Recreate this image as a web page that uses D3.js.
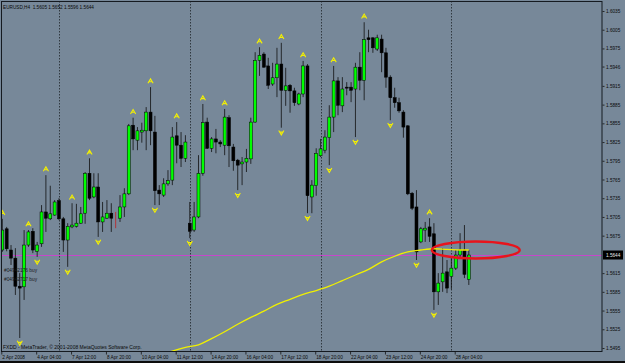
<!DOCTYPE html>
<html>
<head>
<meta charset="utf-8">
<script src="https://d3js.org/d3.v7.min.js"></script>
<style>
body { margin: 0; background: #000; }
svg { display: block; font-family: 'Liberation Sans', Arial, sans-serif; }
.axis text { fill: #0a0a0a; font-size: 4.7px; }
.axis line { stroke: #111; stroke-width: 0.8; }
</style>
</head>
<body>
<svg id="chart"></svg>
<script>
// EURUSD H4, bar 0 = 2 Apr 2008 20:00
var open = [1.5652,1.5686,1.5652,1.5639,1.5594,1.5593,1.5660,1.5682,1.5650,1.5662,1.5713,1.5702,1.5708,1.5731,1.5702,1.5668,1.5689,1.5690,1.5695,1.5711,
  1.5775,1.5737,1.5753,1.5697,1.5703,1.5711,1.5703,1.5703,1.5721,1.5742,1.5852,1.5828,1.5841,1.5843,1.5873,1.5841,1.5748,1.5740,1.5758,1.5764,
  1.5835,1.5820,1.5799,1.5695,1.5684,1.5705,1.5775,1.5857,1.5815,1.5830,1.5825,1.5820,1.5864,1.5817,1.5796,1.5790,1.5793,1.5798,1.5857,1.5956,
  1.5966,1.5947,1.5918,1.5928,1.5950,1.5908,1.5916,1.5907,1.5886,1.5902,1.5947,1.5737,1.5755,1.5803,1.5812,1.5832,1.5865,1.5923,1.5883,1.5913,
  1.5913,1.5910,1.5945,1.5924,1.5992,1.5992,1.5974,1.5990,1.5968,1.5929,1.5896,1.5888,1.5873,1.5851,1.5743,1.5721,1.5665,1.5684,1.5689,1.5678,
  1.5585,1.5601,1.5617,1.5610,1.5623,1.5644,1.5652,1.5605];
var high = [1.5702,1.5689,1.5660,1.5655,1.5615,1.5684,1.5684,1.5687,1.5665,1.5724,1.5772,1.5755,1.5732,1.5735,1.5705,1.5695,1.5727,1.5726,1.5721,1.5777,
  1.5799,1.5775,1.5775,1.5729,1.5732,1.5727,1.5713,1.5740,1.5751,1.5854,1.5864,1.5849,1.5856,1.5881,1.5913,1.5867,1.5756,1.5767,1.5780,1.5849,
  1.5857,1.5841,1.5836,1.5729,1.5729,1.5804,1.5886,1.5864,1.5833,1.5846,1.5828,1.5878,1.5868,1.5822,1.5798,1.5801,1.5814,1.5864,1.5969,1.5977,
  1.5969,1.5960,1.5952,1.5976,1.5984,1.5944,1.5918,1.5912,1.5904,1.5955,1.5950,1.5764,1.5815,1.5830,1.5844,1.5884,1.5947,1.5929,1.5929,1.5921,
  1.5921,1.5952,1.5969,1.6017,1.6005,1.5993,1.5997,1.5997,1.5976,1.5932,1.5912,1.5896,1.5876,1.5852,1.5745,1.5748,1.5689,1.5697,1.5703,1.5695,
  1.5615,1.5655,1.5636,1.5641,1.5652,1.5679,1.5692,1.5652];
var low = [1.5649,1.5650,1.5628,1.5580,1.5511,1.5572,1.5657,1.5647,1.5641,1.5657,1.5681,1.5700,1.5707,1.5700,1.5649,1.5625,1.5687,1.5688,1.5694,1.5694,
  1.5732,1.5735,1.5673,1.5681,1.5702,1.5681,1.5687,1.5697,1.5705,1.5740,1.5812,1.5812,1.5824,1.5812,1.5820,1.5724,1.5724,1.5737,1.5755,1.5756,
  1.5791,1.5785,1.5793,1.5671,1.5681,1.5703,1.5771,1.5814,1.5809,1.5807,1.5817,1.5804,1.5785,1.5779,1.5748,1.5756,1.5777,1.5790,1.5856,1.5931,
  1.5944,1.5910,1.5915,1.5897,1.5848,1.5883,1.5872,1.5883,1.5884,1.5897,1.5711,1.5711,1.5739,1.5801,1.5807,1.5788,1.5841,1.5868,1.5873,1.5900,
  1.5889,1.5833,1.5908,1.5892,1.5969,1.5968,1.5971,1.5937,1.5912,1.5860,1.5880,1.5872,1.5832,1.5740,1.5716,1.5636,1.5663,1.5665,1.5665,1.5556,
  1.5564,1.5585,1.5583,1.5589,1.5620,1.5639,1.5607,1.5596];
var close = [1.5684,1.5654,1.5639,1.5594,1.5591,1.5660,1.5681,1.5652,1.5660,1.5713,1.5703,1.5710,1.5729,1.5702,1.5668,1.5690,1.5692,1.5695,1.5710,1.5775,
  1.5735,1.5753,1.5697,1.5705,1.5711,1.5703,1.5703,1.5721,1.5742,1.5851,1.5830,1.5843,1.5844,1.5873,1.5843,1.5747,1.5742,1.5758,1.5763,1.5833,
  1.5820,1.5799,1.5825,1.5682,1.5705,1.5775,1.5856,1.5815,1.5830,1.5825,1.5822,1.5865,1.5819,1.5795,1.5788,1.5793,1.5799,1.5857,1.5956,1.5964,
  1.5945,1.5916,1.5928,1.5950,1.5908,1.5915,1.5907,1.5888,1.5902,1.5947,1.5739,1.5756,1.5807,1.5814,1.5833,1.5865,1.5923,1.5884,1.5910,1.5912,
  1.5908,1.5945,1.5924,1.5989,1.5989,1.5976,1.5992,1.5968,1.5929,1.5896,1.5888,1.5875,1.5849,1.5742,1.5719,1.5649,1.5686,1.5687,1.5674,1.5585,
  1.5599,1.5615,1.5591,1.5623,1.5644,1.5652,1.5613,1.5644];

// fractals (bar index)
var upFractals = [0,6,10,16,20,30,34,40,46,51,59,64,69,76,83,98];
var downFractals = [4,8,15,22,35,43,54,64,70,75,81,89,95,99];

// moving average
var maBars = [36,39,42,45,48,51,54,57,60,63,66,69,72,75,78,81,84,87,90,93,96,99,102,105,107];
var maValues = [1.5482,1.5490,1.5496,1.5500,1.5510,1.5521,1.5533,1.5544,1.5554,1.5565,1.5573,1.5581,1.5587,1.5594,1.5603,1.5612,1.5621,1.5633,1.5642,1.5649,1.5652,1.5654,1.5653,1.5652,1.5652];

var weekStarts = [13,43,73,103];
var timeLabelBars = [0,8,16,24,32,40,48,56,64,72,80,88,96,104];
var timeLabels = ["2 Apr 2008","4 Apr 04:00","7 Apr 12:00","8 Apr 20:00","10 Apr 04:00","11 Apr 12:00","14 Apr 20:00",
  "16 Apr 04:00","17 Apr 12:00","18 Apr 20:00","22 Apr 04:00","23 Apr 12:00","24 Apr 20:00","28 Apr 04:00"];
var priceTicks = [1.6035,1.6005,1.5975,1.5946,1.5915,1.5885,1.5855,1.5825,1.5795,1.5765,1.5735,1.5705,1.5675,1.5615,1.5585,1.5555,1.5525,1.5495];

var title = "EURUSD,H4  1.5605 1.5652 1.5596 1.5644";
var orders = ["#04942176 buy", "#04942717 buy"];
var footer = "FXDD - MetaTrader, \u00a9 2001-2008 MetaQuotes Software Corp.";
var highlight = {bar: 108.6, price: 1.5652};

var W = 625, H = 363;
var plot = {left: 1, top: 1, right: 602, bottom: 351};

var svg = d3.select("#chart").attr("width", W).attr("height", H);

var x = d3.scaleLinear().domain([0, 107]).range([2.3, 468.8]);
var y = d3.scaleLinear().domain([1.5495, 1.6035]).range([348, 11]);

svg.append("rect").attr("width", W).attr("height", H).attr("fill", "#778899");
svg.append("rect").attr("x", 0).attr("y", 361).attr("width", W).attr("height", 2).attr("fill", "#0c0c0c");

svg.append("clipPath").attr("id", "clip")
  .append("rect").attr("x", plot.left).attr("y", plot.top)
  .attr("width", plot.right - plot.left).attr("height", plot.bottom - plot.top);

var g = svg.append("g").attr("clip-path", "url(#clip)");

// week separators
g.selectAll("line.sep").data(weekStarts).enter().append("line")
  .attr("class", "sep")
  .attr("x1", function(d){ return Math.round(x(d)) + 0.5; })
  .attr("x2", function(d){ return Math.round(x(d)) + 0.5; })
  .attr("y1", plot.top).attr("y2", plot.bottom)
  .attr("stroke", "#1e242a").attr("stroke-width", 0.8)
  .attr("stroke-dasharray", "1.5,1.5");

// bid line
var last = close[close.length - 1];
g.append("line")
  .attr("x1", plot.left).attr("x2", plot.right)
  .attr("y1", Math.round(y(last)) + 0.5).attr("y2", Math.round(y(last)) + 0.5)
  .attr("stroke", "#d040d0").attr("stroke-width", 0.9);

// candles
var bars = d3.range(open.length);
var candle = g.selectAll("g.candle").data(bars).enter().append("g").attr("class", "candle");

candle.append("line")
  .attr("x1", function(i){ return x(i); })
  .attr("x2", function(i){ return x(i); })
  .attr("y1", function(i){ return y(high[i]); })
  .attr("y2", function(i){ return y(low[i]); })
  .attr("stroke", function(i){ return open[i] == close[i] ? "#c02020" : "#101010"; })
  .attr("stroke-width", 0.8);

candle.filter(function(i){ return open[i] != close[i]; })
  .append("rect")
  .attr("x", function(i){ return x(i) - 1.5; })
  .attr("width", 3)
  .attr("y", function(i){ return y(Math.max(open[i], close[i])); })
  .attr("height", function(i){ return Math.max(1, Math.abs(y(open[i]) - y(close[i]))); })
  .attr("fill", function(i){ return close[i] > open[i] ? "#00ff00" : "#000"; })
  .attr("stroke", "#000").attr("stroke-width", 0.5);

// moving average
var maLine = d3.line()
  .x(function(d, k){ return x(maBars[k]); })
  .y(function(d){ return y(d); })
  .curve(d3.curveMonotoneX);

g.append("path").datum(maValues)
  .attr("d", maLine)
  .attr("fill", "none")
  .attr("stroke", "#f0f000")
  .attr("stroke-width", 1.3);

// fractal arrows
g.selectAll("path.up").data(upFractals).enter().append("path")
  .attr("class", "up")
  .attr("transform", function(i){ return "translate(" + x(i) + "," + (y(high[i]) - 6) + ")"; })
  .attr("d", "M-2.6,2.2 L0,-2.2 L2.6,2.2 M-1.4,0.6 L1.4,0.6")
  .attr("fill", "none").attr("stroke", "#f4f000").attr("stroke-width", 1.1);

g.selectAll("path.down").data(downFractals).enter().append("path")
  .attr("class", "down")
  .attr("transform", function(i){ return "translate(" + x(i) + "," + (y(low[i]) + 5) + ")"; })
  .attr("d", "M-2.6,-2.2 L0,2.2 L2.6,-2.2 M-1.4,-0.6 L1.4,-0.6")
  .attr("fill", "none").attr("stroke", "#f4f000").attr("stroke-width", 1.1);

// highlight ellipse
svg.append("ellipse")
  .attr("cx", x(highlight.bar)).attr("cy", y(highlight.price))
  .attr("rx", 44).attr("ry", 8.5)
  .attr("fill", "none").attr("stroke", "#e8141c").attr("stroke-width", 2.4);

// border
svg.append("rect")
  .attr("x", plot.left + 0.5).attr("y", plot.top + 0.5)
  .attr("width", plot.right - plot.left - 0.5).attr("height", plot.bottom - plot.top)
  .attr("fill", "none").attr("stroke", "#151a20").attr("stroke-width", 1);

// axes
var yAxis = d3.axisRight(y).tickValues(priceTicks).tickSize(2).tickPadding(1.5)
  .tickFormat(d3.format(".4f"));
var ya = svg.append("g").attr("class", "axis").attr("transform", "translate(" + (plot.right + 0.5) + ",0)").call(yAxis);
ya.select(".domain").remove();
ya.selectAll("text").attr("font-family", null);

var xAxis = d3.axisBottom(x).tickValues(timeLabelBars).tickSize(3).tickPadding(1.2)
  .tickFormat(function(d, k){ return timeLabels[k]; });
var xa = svg.append("g").attr("class", "axis").attr("transform", "translate(0," + (plot.bottom + 0.5) + ")").call(xAxis);
xa.select(".domain").remove();
xa.selectAll(".tick line").attr("transform", "translate(-1,0)");
xa.selectAll("text").attr("text-anchor", "start").attr("x", -0.5);
xa.selectAll("text").attr("font-family", null);

// bid price box
svg.append("rect")
  .attr("x", plot.right + 1).attr("y", y(last) - 4.5)
  .attr("width", 20).attr("height", 9).attr("fill", "#000");
svg.append("text")
  .attr("x", plot.right + 4).attr("y", y(last) + 1.7)
  .attr("font-size", 4.7).attr("fill", "#e8e8e8")
  .text(d3.format(".4f")(last));

// texts
svg.append("text").attr("x", 3).attr("y", 8.5)
  .attr("font-size", 4.7).attr("fill", "#0a0a0a").attr("xml:space", "preserve")
  .text(title);

svg.selectAll("text.order").data(orders).enter().append("text")
  .attr("class", "order")
  .attr("x", 4).attr("y", function(d, k){ return 271.5 + k * 9.5; })
  .attr("font-size", 4.8).attr("fill", "#1a1a1a")
  .text(function(d){ return d; });

svg.append("text").attr("x", 3).attr("y", 349)
  .attr("font-size", 5).attr("fill", "#0a0a0a")
  .text(footer);
</script>
</body>
</html>
